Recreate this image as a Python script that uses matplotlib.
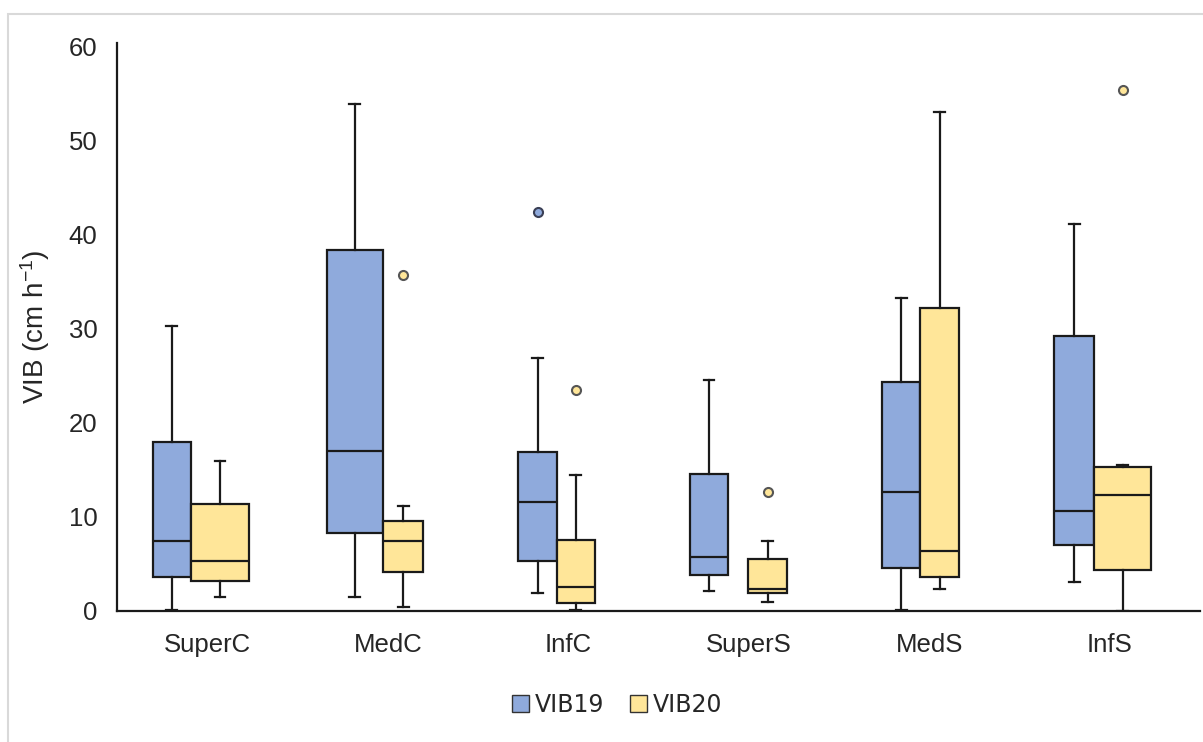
import matplotlib
matplotlib.use("Agg")
import matplotlib.pyplot as plt
from matplotlib.patches import Patch, Rectangle

plt.rcParams['font.family'] = ['Liberation Sans', 'DejaVu Sans']
plt.rcParams['mathtext.default'] = 'regular'

categories = ['SuperC', 'MedC', 'InfC', 'SuperS', 'MedS', 'InfS']

# VIB19 box values
vib19_lo = [0.1, 1.5, 1.9, 2.1, 0.1, 3.1]
vib19_q1 = [3.6, 8.3, 5.3, 3.8, 4.6, 7.0]
vib19_med = [7.45, 17.0, 11.6, 5.7, 12.7, 10.6]
vib19_q3 = [18.0, 38.4, 16.9, 14.6, 24.4, 29.2]
vib19_hi = [30.3, 53.9, 26.9, 24.6, 33.3, 41.1]
vib19_out = [[], [], [42.4], [], [], []]

# VIB20 box values
vib20_lo = [1.5, 0.4, 0.1, 1.0, 2.3, 0.0]
vib20_q1 = [3.2, 4.1, 0.8, 1.9, 3.6, 4.4]
vib20_med = [5.3, 7.45, 2.5, 2.3, 6.35, 12.3]
vib20_q3 = [11.4, 9.6, 7.6, 5.5, 32.2, 15.3]
vib20_hi = [15.9, 11.2, 14.5, 7.4, 53.1, 15.5]
vib20_out = [[], [35.7], [23.5], [12.7], [], [55.4]]

# where the boxes sit (category units) and how wide they are
pos19 = [-0.196, 0.818, 1.830, 2.780, 3.845, 4.803]
pos20 = [0.071, 1.085, 2.042, 3.105, 4.057, 5.071]
wid19 = [0.214, 0.312, 0.217, 0.213, 0.210, 0.224]
wid20 = [0.320, 0.223, 0.208, 0.216, 0.213, 0.311]

blue = '#8FAADC'
yellow = '#FFE699'
ink = '#1a1a1a'


def make_stats(lo, q1, med, q3, hi, out):
    stats = []
    for i in range(len(lo)):
        stats.append(dict(whislo=lo[i], q1=q1[i], med=med[i], q3=q3[i],
                          whishi=hi[i], fliers=out[i]))
    return stats


fig = plt.figure(figsize=(12.03, 7.42), dpi=100)
ax = fig.add_axes([117 / 1203, 131 / 742, 1083 / 1203, 568 / 742])

for stats, pos, wid, col, fedge in [
        (make_stats(vib19_lo, vib19_q1, vib19_med, vib19_q3, vib19_hi, vib19_out),
         pos19, wid19, blue, '#3a3f55'),
        (make_stats(vib20_lo, vib20_q1, vib20_med, vib20_q3, vib20_hi, vib20_out),
         pos20, wid20, yellow, '#555555')]:
    ax.bxp(stats, positions=pos, widths=wid, patch_artist=True,
           showfliers=True, manage_ticks=False, capwidths=0.06,
           boxprops=dict(facecolor=col, edgecolor=ink, linewidth=1.6),
           medianprops=dict(color=ink, linewidth=1.6),
           whiskerprops=dict(color=ink, linewidth=1.6),
           capprops=dict(color=ink, linewidth=1.6),
           flierprops=dict(marker='o', markersize=6.5, markerfacecolor=col,
                           markeredgecolor=fedge, markeredgewidth=1.5))

ax.set_xlim(-0.5, 5.5)
ax.set_ylim(0, 60.4)
ax.set_xticks(range(len(categories)))
ax.set_xticklabels(categories)
ax.set_yticks([0, 10, 20, 30, 40, 50, 60])
ax.tick_params(axis='both', length=0, labelsize=18.5, colors='#262626')
ax.tick_params(axis='x', pad=16)
ax.tick_params(axis='y', pad=14)
ax.set_ylabel('VIB (cm h$^{-1}$)', fontsize=20, color='#262626', labelpad=12)

for s in ['top', 'right']:
    ax.spines[s].set_visible(False)
for s in ['left', 'bottom']:
    ax.spines[s].set_color(ink)
    ax.spines[s].set_linewidth(1.6)

handles = [Patch(facecolor=blue, edgecolor='#333333', linewidth=1.0, label='VIB19'),
           Patch(facecolor=yellow, edgecolor='#333333', linewidth=1.0, label='VIB20')]
fig.legend(handles=handles, loc='center', bbox_to_anchor=(617 / 1203, 1 - 705 / 742),
           ncol=2, frameon=False, prop={'family': 'DejaVu Sans', 'size': 17},
           handlelength=0.72, handleheight=0.7, handletextpad=0.25,
           columnspacing=1.1, labelcolor='#262626')

# thin grey frame around the chart area
fig.patches.append(Rectangle((8 / 1203, -0.05), 1.1, 1 - 14 / 742 + 0.05,
                             transform=fig.transFigure, fill=False,
                             edgecolor='#d9d9d9', linewidth=1.5))

fig.savefig('out.png', dpi=100)
